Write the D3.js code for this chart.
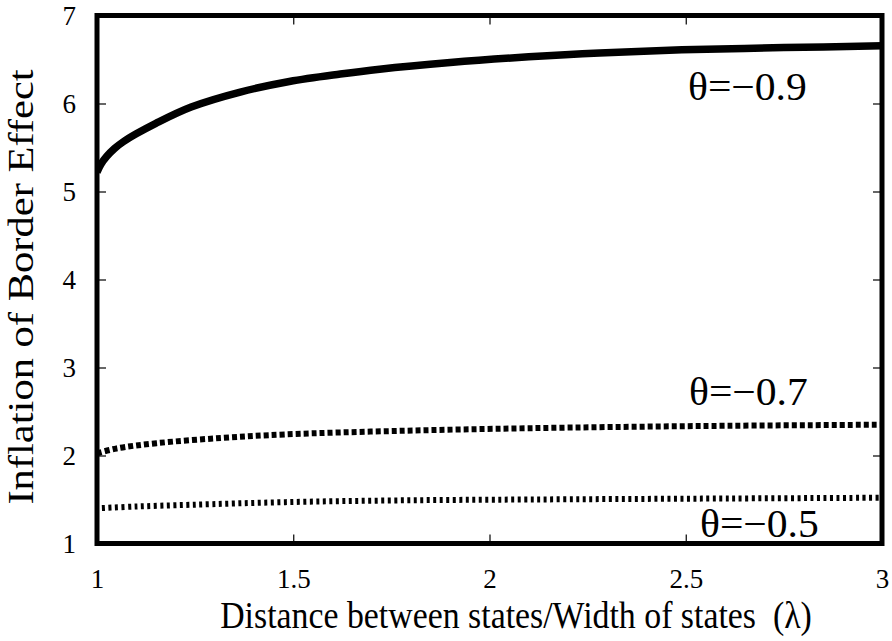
<!DOCTYPE html>
<html>
<head>
<meta charset="utf-8">
<script src="https://cdn.jsdelivr.net/npm/d3@7"></script>
<style>
  html, body { margin: 0; padding: 0; background: #fff; }
  svg { display: block; }
  text { font-family: "Liberation Serif", "Times New Roman", Times, "Nimbus Roman", "DejaVu Serif", serif; fill: #000; }
</style>
</head>
<body>
<svg id="chart" width="892" height="641"></svg>
<script>
// ---- data ----
const lambda09 = [1.00, 1.01, 1.025, 1.045, 1.067, 1.10, 1.15, 1.24, 1.365, 1.49, 1.62, 1.72, 1.90, 2.10, 2.28, 2.49, 2.75, 3.00];
const infl09   = [5.22, 5.31, 5.40, 5.49, 5.565, 5.655, 5.775, 5.96, 6.13, 6.25, 6.335, 6.39, 6.465, 6.53, 6.575, 6.61, 6.635, 6.655];
const lambda07 = [1.00, 1.05, 1.152, 1.32, 1.48, 1.77, 2.10, 2.54, 3.00];
const infl07   = [2.025, 2.08, 2.14, 2.20, 2.24, 2.28, 2.31, 2.335, 2.35];
const lambda05 = [1.00, 1.10, 1.24, 1.48, 1.77, 2.10, 2.54, 3.00];
const infl05   = [1.40, 1.42, 1.44, 1.47, 1.49, 1.50, 1.51, 1.52];
const xTicks = [1, 1.5, 2, 2.5, 3];
const yTicks = [1, 2, 3, 4, 5, 6, 7];
const seriesLabels = ["θ=−0.9", "θ=−0.7", "θ=−0.5"];
const xTitle = "Distance between states/Width of states  (λ)";
const yTitle = "Inflation of Border Effect";

// ---- layout ----
const FONT = '"Liberation Serif", "Times New Roman", Times, serif';
const svg = d3.select("#chart");
const L = 97, R = 882, T = 15.5, B = 543.5;
const x = d3.scaleLinear().domain([1, 3]).range([L, R]);
const y = d3.scaleLinear().domain([1, 7]).range([B, T]);

svg.append("clipPath").attr("id", "clip")
  .append("rect").attr("x", L).attr("y", T).attr("width", R - L).attr("height", B - T);

const line = d3.line().x(d => x(d[0])).y(d => y(d[1])).curve(d3.curveCatmullRom.alpha(0.5));
const zip = (a, b) => a.map((v, i) => [v, b[i]]);

const g = svg.append("g").attr("clip-path", "url(#clip)");
g.append("path").datum(zip(lambda05, infl05)).attr("d", line)
  .attr("fill", "none").attr("stroke", "#000").attr("stroke-width", 6)
  .attr("stroke-dasharray", "3,3.5").attr("stroke-dashoffset", -5);
g.append("path").datum(zip(lambda07, infl07)).attr("d", line)
  .attr("fill", "none").attr("stroke", "#000").attr("stroke-width", 6)
  .attr("stroke-dasharray", "5,3");
g.append("path").datum(zip(lambda09, infl09)).attr("d", line)
  .attr("fill", "none").attr("stroke", "#000").attr("stroke-width", 7.5);

// ---- axes (ticks inward on all sides) ----
const tk = 9;
const axB = svg.append("g").attr("transform", `translate(0,${B})`)
  .call(d3.axisBottom(x).tickValues(xTicks).tickSize(-tk).tickPadding(tk + 16).tickFormat(d3.format("")));
const axT = svg.append("g").attr("transform", `translate(0,${T})`)
  .call(d3.axisTop(x).tickValues(xTicks).tickSize(-tk).tickFormat(""));
const axL = svg.append("g").attr("transform", `translate(${L},0)`)
  .call(d3.axisLeft(y).tickValues(yTicks).tickSize(-tk).tickPadding(tk + 12).tickFormat(d3.format("d")));
const axR = svg.append("g").attr("transform", `translate(${R},0)`)
  .call(d3.axisRight(y).tickValues(yTicks).tickSize(-tk).tickFormat(""));
[axB, axT, axL, axR].forEach(a => {
  a.attr("font-family", null).attr("font-size", null);
  a.select(".domain").remove();
  a.selectAll(".tick line").attr("stroke", "#000").attr("stroke-width", 1.2);
  a.selectAll(".tick text").style("font-size", "27px").style("font-family", FONT).attr("fill", "#000");
});
axB.selectAll(".tick text").attr("dy", "0.71em");

// frame
svg.append("rect").attr("x", L).attr("y", T).attr("width", R - L).attr("height", B - T)
  .attr("fill", "none").attr("stroke", "#000").attr("stroke-width", 5);

// ---- series labels ----
const labelPos = [[688, 100], [689, 405], [700, 537]];
seriesLabels.forEach((t, i) => {
  svg.append("text").attr("x", labelPos[i][0]).attr("y", labelPos[i][1])
    .style("font-family", FONT).style("font-size", "40px")
    .attr("transform", `translate(${labelPos[i][0]},0) scale(1.04,1) translate(${-labelPos[i][0]},0)`)
    .text(t);
});

// ---- titles ----
svg.append("text").attr("transform", "translate(516,628) scale(0.89,1)")
  .attr("text-anchor", "middle").style("font-family", FONT).style("font-size", "38px")
  .style("white-space", "pre").attr("xml:space", "preserve").text(xTitle);
svg.append("text").attr("transform", "translate(33,287) rotate(-90) scale(1.12,0.95)")
  .attr("text-anchor", "middle").style("font-family", FONT).style("font-size", "38px").text(yTitle);
</script>
</body>
</html>
